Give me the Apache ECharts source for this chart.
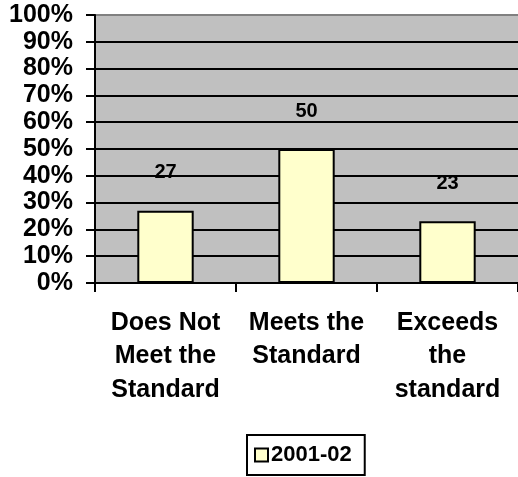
<!DOCTYPE html>
<html>
<head>
<meta charset="utf-8">
<script src="https://cdn.jsdelivr.net/npm/echarts@6/dist/echarts.min.js"></script>
<style>
html,body{margin:0;padding:0;background:#fff;}
#chart{width:518px;height:477px;}
</style>
</head>
<body>
<div id="chart"></div>
<script>
const categories = ['Does Not\nMeet the\nStandard', 'Meets the\nStandard', 'Exceeds\nthe\nstandard'];
const seriesName = '2001-02';
const values = [27, 50, 23];
const yMin = 0, yMax = 100, yInterval = 10;

const FONT = "'Liberation Sans', Arial, sans-serif";
const chart = echarts.init(document.getElementById('chart'), null, {renderer: 'canvas'});
chart.setOption({
  animation: false,
  backgroundColor: '#ffffff',
  grid: {
    left: 95, top: 15, right: -1, bottom: 194,
    show: true, backgroundColor: '#c0c0c0', borderWidth: 0
  },
  legend: {
    left: 247, top: 435,
    data: [seriesName],
    orient: 'horizontal',
    borderColor: '#000', borderWidth: 2,
    padding: [9, 13, 9, 7],
    itemWidth: 13, itemHeight: 13, itemGap: 4,
    icon: 'rect',
    textStyle: { fontFamily: FONT, fontWeight: 'bold', fontSize: 22, color: '#000', padding: [0,0,0,-2] }
  },
  xAxis: {
    type: 'category',
    data: categories,
    axisLine: { show: true, lineStyle: { color: '#000', width: 2 } },
    axisTick: { show: true, length: 9, lineStyle: { color: '#000', width: 2 } },
    axisLabel: {
      fontFamily: FONT, fontWeight: 'bold', fontSize: 25, color: '#000',
      lineHeight: 33.5, margin: 23, interval: 0, align: 'center'
    },
    splitLine: { show: false }
  },
  yAxis: {
    type: 'value',
    min: yMin, max: yMax, interval: yInterval,
    axisLine: { show: true, lineStyle: { color: '#000', width: 2 } },
    axisTick: { show: true, length: 9, lineStyle: { color: '#000', width: 2 } },
    axisLabel: {
      formatter: '{value}%',
      fontFamily: FONT, fontWeight: 'bold', fontSize: 25, color: '#000', margin: 22
    },
    splitLine: { show: true, lineStyle: { color: ['#000','#000','#000','#000','#000','#000','#000','#000','#000','#000','#808080'], width: 2 } }
  },
  series: [{
    name: seriesName,
    type: 'bar',
    data: values,
    barWidth: '40%',
    itemStyle: { color: '#ffffcc', borderColor: '#000', borderWidth: 2 },
    label: {
      show: true, position: 'top', distance: 28,
      fontFamily: FONT, fontWeight: 'bold', fontSize: 20, color: '#000'
    }
  }]
});
</script>
</body>
</html>
